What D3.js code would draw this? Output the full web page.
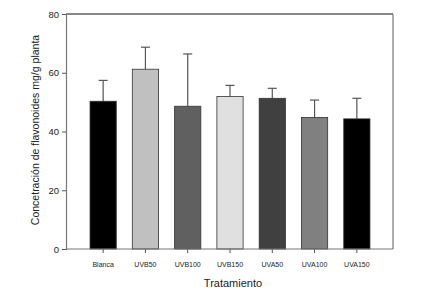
<!DOCTYPE html>
<html>
<head>
<meta charset="utf-8">
<script src="https://cdn.jsdelivr.net/npm/d3@7"></script>
<style>
  body { margin: 0; background: #fff; }
  text { font-family: "Liberation Sans", Arial, sans-serif; fill: #222; }
</style>
</head>
<body>
<script>
// data
const categories = ["Blanca", "UVB50", "UVB100", "UVB150", "UVA50", "UVA100", "UVA150"];
const means = [50.3, 61.2, 48.6, 51.9, 51.3, 44.8, 44.3];
const errors = [7.1, 7.5, 17.8, 3.8, 3.4, 5.9, 7.0];
const fills = ["#000000", "#c0c0c0", "#606060", "#e0e0e0", "#404040", "#808080", "#000000"];
const yTicks = [0, 20, 40, 60, 80];

const width = 434;
const height = 296;
const plot = {left: 66, right: 393, top: 14, bottom: 249};

const data = categories.map((c, i) => ({cat: c, v: means[i], e: errors[i], fill: fills[i]}));

var svg = d3.select("body").append("svg")
    .attr("width", width)
    .attr("height", height);

var xscale = d3.scaleBand()
    .domain(categories)
    .range([82, 378])
    .paddingInner(0.38)
    .paddingOuter(0.19);

var yscale = d3.scaleLinear()
    .domain([0, 80])
    .range([plot.bottom, plot.top]);

// frame: top black, right gray
svg.append("line")
    .attr("x1", plot.left).attr("x2", plot.right)
    .attr("y1", plot.top).attr("y2", plot.top)
    .attr("stroke", "#111").attr("stroke-width", 1.2);
svg.append("line")
    .attr("x1", plot.right).attr("x2", plot.right)
    .attr("y1", plot.top).attr("y2", plot.bottom)
    .attr("stroke", "#777").attr("stroke-width", 1.2);

// error bars (upper only)
var eb = svg.append("g").attr("stroke", "#555").attr("stroke-width", 1.2);
eb.selectAll("line.v")
    .data(data)
    .enter()
    .append("line")
    .attr("class", "v")
    .attr("x1", d => xscale(d.cat) + xscale.bandwidth() / 2)
    .attr("x2", d => xscale(d.cat) + xscale.bandwidth() / 2)
    .attr("y1", d => yscale(d.v))
    .attr("y2", d => yscale(d.v + d.e));
eb.selectAll("line.cap")
    .data(data)
    .enter()
    .append("line")
    .attr("class", "cap")
    .attr("x1", d => xscale(d.cat) + xscale.bandwidth() / 2 - 4.5)
    .attr("x2", d => xscale(d.cat) + xscale.bandwidth() / 2 + 4.5)
    .attr("y1", d => yscale(d.v + d.e))
    .attr("y2", d => yscale(d.v + d.e));

// bars
svg.selectAll("rect.bar")
    .data(data)
    .enter()
    .append("rect")
    .attr("class", "bar")
    .attr("x", d => xscale(d.cat))
    .attr("y", d => yscale(d.v))
    .attr("width", xscale.bandwidth())
    .attr("height", d => yscale(0) - yscale(d.v))
    .attr("fill", d => d.fill)
    .attr("stroke", "#333")
    .attr("stroke-width", 0.8);

// y axis
var yaxis = d3.axisLeft(yscale)
    .tickValues(yTicks)
    .tickSize(4)
    .tickPadding(3);
var gy = svg.append("g")
    .attr("transform", "translate(" + plot.left + ",0)")
    .call(yaxis);
gy.select(".domain").attr("stroke", "#777").attr("stroke-width", 1.2);
gy.selectAll(".tick line").attr("stroke", "#555");
gy.selectAll(".tick text").style("font-size", "9.5px").attr("fill", "#333");

// x axis
var xaxis = d3.axisBottom(xscale)
    .tickSize(4)
    .tickSizeOuter(0)
    .tickPadding(9);
var gx = svg.append("g")
    .attr("transform", "translate(0," + plot.bottom + ")")
    .call(xaxis);
gx.select(".domain").remove();
gx.append("line")
    .attr("x1", plot.left).attr("x2", plot.right)
    .attr("stroke", "#777").attr("stroke-width", 1.2);
gx.selectAll(".tick line").attr("stroke", "#555");
gx.selectAll(".tick text").style("font-size", "7px").attr("fill", "#333");

// titles
svg.append("text")
    .attr("x", 233)
    .attr("y", 287)
    .attr("text-anchor", "middle")
    .style("font-size", "11px")
    .text("Tratamiento");

svg.append("text")
    .attr("transform", "translate(39,130) rotate(-90)")
    .attr("text-anchor", "middle")
    .style("font-size", "10.5px")
    .text("Concetración de flavonoides mg/g planta");
</script>
</body>
</html>
